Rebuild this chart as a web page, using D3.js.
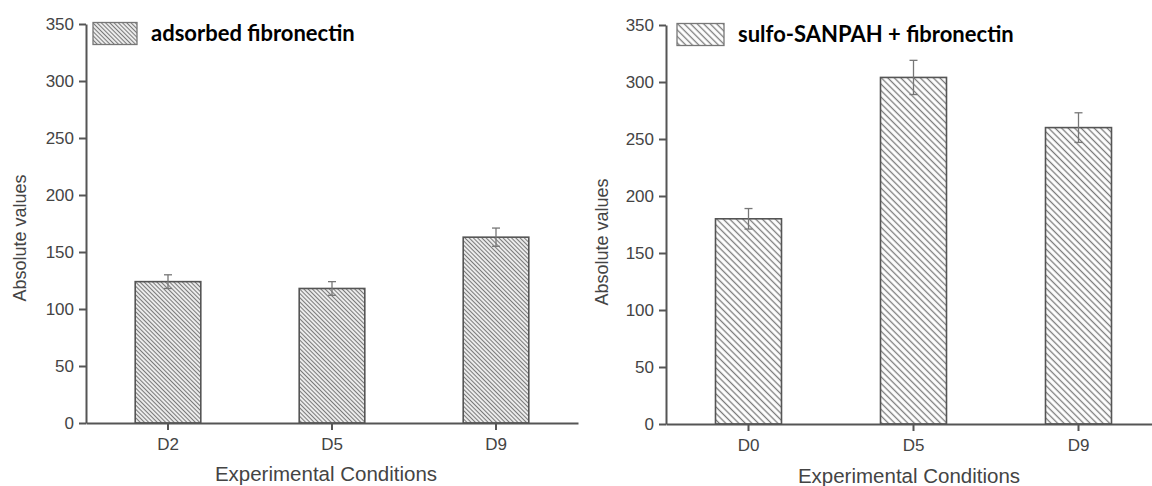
<!DOCTYPE html>
<html>
<head>
<meta charset="utf-8">
<script src="https://cdn.jsdelivr.net/npm/d3@7"></script>
<style>
  html, body { margin: 0; padding: 0; background: #fff; }
  svg { display: block; }
</style>
</head>
<body>
<svg id="chart" width="1152" height="486"></svg>
<script>
// ---- Data ----
const leftCategories = ["D2", "D5", "D9"];
const leftValues = [124, 118, 163];
const leftErrors = [6, 6, 8];
const leftLegend = "adsorbed fibronectin";

const rightCategories = ["D0", "D5", "D9"];
const rightValues = [180, 304, 260];
const rightErrors = [9, 15, 13];
const rightLegend = "sulfo-SANPAH + fibronectin";

const yTicks = [0, 50, 100, 150, 200, 250, 300, 350];
const yTitle = "Absolute values";
const xTitle = "Experimental Conditions";

// ---- Drawing ----
const svg = d3.select("#chart");
const defs = svg.append("defs");

function hatch(id, spacing) {
  const p = defs.append("pattern")
    .attr("id", id)
    .attr("patternUnits", "userSpaceOnUse")
    .attr("width", spacing).attr("height", spacing)
    .attr("patternTransform", "rotate(-45)");
  p.append("rect").attr("width", spacing).attr("height", spacing).attr("fill", "#fff");
  p.append("line").attr("x1", spacing / 2).attr("x2", spacing / 2)
    .attr("y1", 0).attr("y2", spacing)
    .attr("stroke", "#7a7a7a").attr("stroke-width", 1.3);
}
hatch("hatchL", 3.0);
hatch("hatchR", 4.6);

const sans = "'Liberation Sans', Arial, sans-serif";

function panel(cfg) {
  const g = svg.append("g");
  const y = d3.scaleLinear().domain([0, 350]).range([cfg.y0, cfg.y1]);
  const x = d3.scaleBand().domain(cfg.cats).range([cfg.x0, cfg.x1])
    .paddingInner(0.6).paddingOuter(0.3);

  // bars
  g.selectAll("rect.bar").data(cfg.vals).join("rect")
    .attr("class", "bar")
    .attr("x", (d, i) => x(cfg.cats[i]))
    .attr("width", x.bandwidth())
    .attr("y", d => y(d))
    .attr("height", d => y(0) - y(d))
    .attr("fill", `url(#${cfg.pat})`)
    .attr("stroke", "#555").attr("stroke-width", 1.6);

  // error bars
  const cap = 4;
  cfg.vals.forEach((v, i) => {
    const cx = x(cfg.cats[i]) + x.bandwidth() / 2;
    const e = cfg.errs[i];
    g.append("line").attr("x1", cx).attr("x2", cx)
      .attr("y1", y(v + e)).attr("y2", y(v - e))
      .attr("stroke", "#777").attr("stroke-width", 1.3);
    [v + e, v - e].forEach(t => {
      g.append("line").attr("x1", cx - cap).attr("x2", cx + cap)
        .attr("y1", y(t)).attr("y2", y(t))
        .attr("stroke", "#777").attr("stroke-width", 1.3);
    });
  });

  // y axis
  const ya = g.append("g").attr("transform", `translate(${cfg.x0},0)`)
    .call(d3.axisLeft(y).tickValues(yTicks).tickSize(7).tickSizeOuter(0).tickPadding(5));
  // x axis
  const xa = g.append("g").attr("transform", `translate(0,${cfg.y0})`)
    .call(d3.axisBottom(x).tickSize(7).tickSizeOuter(0).tickPadding(8));
  [ya, xa].forEach(a => {
    a.select(".domain").attr("stroke", "#555").attr("stroke-width", 2);
    a.selectAll(".tick line").attr("stroke", "#555").attr("stroke-width", 2);
    a.selectAll(".tick text").attr("fill", "#444")
      .style("font-family", sans).style("font-size", "17px");
  });

  // titles
  g.append("text")
    .attr("transform", `translate(${cfg.yTitleX},${cfg.yTitleY}) rotate(-90)`)
    .attr("text-anchor", "middle")
    .attr("fill", "#444")
    .style("font-family", sans).style("font-size", "18px")
    .text(yTitle);
  g.append("text")
    .attr("x", cfg.xTitleX).attr("y", cfg.xTitleY)
    .attr("text-anchor", "middle")
    .attr("fill", "#444")
    .style("font-family", sans).style("font-size", "20.5px")
    .text(xTitle);

  // legend
  g.append("rect")
    .attr("x", cfg.legX).attr("y", y(350) - 1.5)
    .attr("width", cfg.legW).attr("height", 22)
    .attr("fill", `url(#${cfg.pat})`)
    .attr("stroke", "#777").attr("stroke-width", 1.3);
  g.append("text")
    .attr("x", cfg.legX + cfg.legW + 14).attr("y", y(350) + 17)
    .attr("fill", "#000")
    .style("font-family", "Lato, 'Open Sans', sans-serif").style("font-weight", "bold")
    .style("font-size", "22px")
    .text(cfg.legend);
}

panel({
  cats: leftCategories, vals: leftValues, errs: leftErrors, legend: leftLegend,
  x0: 86, x1: 578, y0: 423, y1: 24, pat: "hatchL",
  yTitleX: 26, yTitleY: 238, xTitleX: 326, xTitleY: 481, legX: 93, legW: 44
});
panel({
  cats: rightCategories, vals: rightValues, errs: rightErrors, legend: rightLegend,
  x0: 666, x1: 1161, y0: 424, y1: 25, pat: "hatchR",
  yTitleX: 608, yTitleY: 242, xTitleX: 909, xTitleY: 483, legX: 677, legW: 47
});
</script>
</body>
</html>
